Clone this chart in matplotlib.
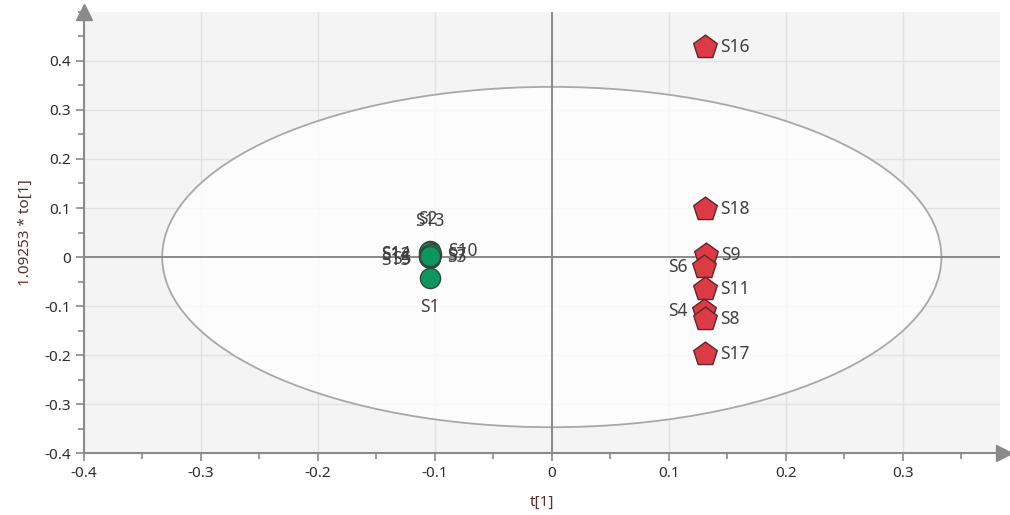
import matplotlib.pyplot as plt
from matplotlib.patches import Ellipse
from matplotlib.ticker import MultipleLocator

plt.rcParams['font.family'] = ['Noto Sans', 'DejaVu Sans']

# Scores: class 1 (green) and class 2 (red)
green_names = ['S13', 'S2', 'S12', 'S15', 'S5', 'S14', 'S10', 'S3', 'S7', 'S1']
green_t = [-0.104, -0.105, -0.105, -0.105, -0.104, -0.104, -0.103, -0.104, -0.104, -0.104]
green_to = [0.012, 0.010, 0.004, 0.000, -0.002, 0.003, 0.006, 0.001, 0.002, -0.043]

red_names = ['S16', 'S18', 'S9', 'S6', 'S11', 'S4', 'S8', 'S17']
red_t = [0.131, 0.131, 0.132, 0.130, 0.131, 0.130, 0.131, 0.131]
red_to = [0.429, 0.098, 0.004, -0.020, -0.065, -0.110, -0.127, -0.198]

# Hotelling T2 ellipse half-widths
ell_a = 0.333
ell_b = 0.347

# label placement (offset in points, alignment)
green_pos = {'S13': (0, 22, 'center'), 'S2': (-1, 24, 'center'),
             'S12': (-13, 0, 'right'), 'S15': (-13, -2, 'right'),
             'S5': (-13, -1, 'right'), 'S14': (-14, 1, 'right'),
             'S10': (12, 2, 'left'), 'S3': (12, 0, 'left'), 'S7': (12, 1, 'left'),
             'S1': (0, -21, 'center')}
red_pos = {'S6': (-12, 0, 'right'), 'S4': (-12, 0, 'right')}

fig = plt.figure(figsize=(10.1, 5.15), dpi=100)
ax = fig.add_axes([0.083, 0.120, 0.907, 0.857])
ax.set_facecolor('#f4f4f4')

ax.grid(True, color='#e2e2e2', lw=1.0)
ax.set_axisbelow(True)
# semi-transparent fill so the grid only just shows through inside
ax.add_patch(Ellipse((0, 0), 2 * ell_a, 2 * ell_b, facecolor=(1, 1, 1, 0.75),
                     edgecolor='#a8a8a8', lw=1.3, zorder=0.9))
ax.axhline(0, color='#8a8a8a', lw=1.4, zorder=1)
ax.axvline(0, color='#8a8a8a', lw=1.4, zorder=1)

ax.scatter(green_t, green_to, s=210, marker='o', color='#0e9660',
           edgecolor='#2f4a3a', lw=1.0, zorder=3)
ax.scatter(red_t, red_to, s=320, marker='p', color='#dc3a44',
           edgecolor='#5a2a2a', lw=1.0, zorder=3)

for n, x, y in zip(green_names, green_t, green_to):
    dx, dy, ha = green_pos[n]
    ax.annotate(n, (x, y), xytext=(dx, dy), textcoords='offset points',
                ha=ha, va='center', fontsize=12.5, color='#404040', zorder=4)
for n, x, y in zip(red_names, red_t, red_to):
    dx, dy, ha = red_pos.get(n, (11, 0, 'left'))
    ax.annotate(n, (x, y), xytext=(dx, dy), textcoords='offset points',
                ha=ha, va='center', fontsize=12.5, color='#404040', zorder=4)

ax.set_xlim(-0.4, 0.383)
ax.set_ylim(-0.4, 0.5)
ax.set_xticks([-0.4, -0.3, -0.2, -0.1, 0, 0.1, 0.2, 0.3])
ax.set_xticklabels(['-0.4', '-0.3', '-0.2', '-0.1', '0', '0.1', '0.2', '0.3'])
ax.set_yticks([-0.4, -0.3, -0.2, -0.1, 0, 0.1, 0.2, 0.3, 0.4])
ax.set_yticklabels(['-0.4', '-0.3', '-0.2', '-0.1', '0', '0.1', '0.2', '0.3', '0.4'])
ax.xaxis.set_minor_locator(MultipleLocator(0.05))
ax.yaxis.set_minor_locator(MultipleLocator(0.05))
ax.tick_params(which='major', length=6, width=1.2, color='#8a8a8a',
               labelsize=11, labelcolor='#2c2c34')
ax.tick_params(which='minor', length=4, width=1.2, color='#8a8a8a')

for s in ['top', 'right']:
    ax.spines[s].set_visible(False)
for s in ['left', 'bottom']:
    ax.spines[s].set_color('#8a8a8a')
    ax.spines[s].set_linewidth(1.5)

# arrow heads on the axes
ax.plot(0, 1, marker='^', ms=11, color='#8a8a8a', transform=ax.transAxes,
        clip_on=False, zorder=5)
ax.plot(1.005, 0, marker='>', ms=11, color='#8a8a8a', transform=ax.transAxes,
        clip_on=False, zorder=5)

ax.set_xlabel('t[1]', fontsize=11, color='#5a2e2e', labelpad=10)
ax.set_ylabel('1.09253 * to[1]', fontsize=11, color='#5a2e2e', labelpad=8)

fig.savefig('out.png', dpi=100)
